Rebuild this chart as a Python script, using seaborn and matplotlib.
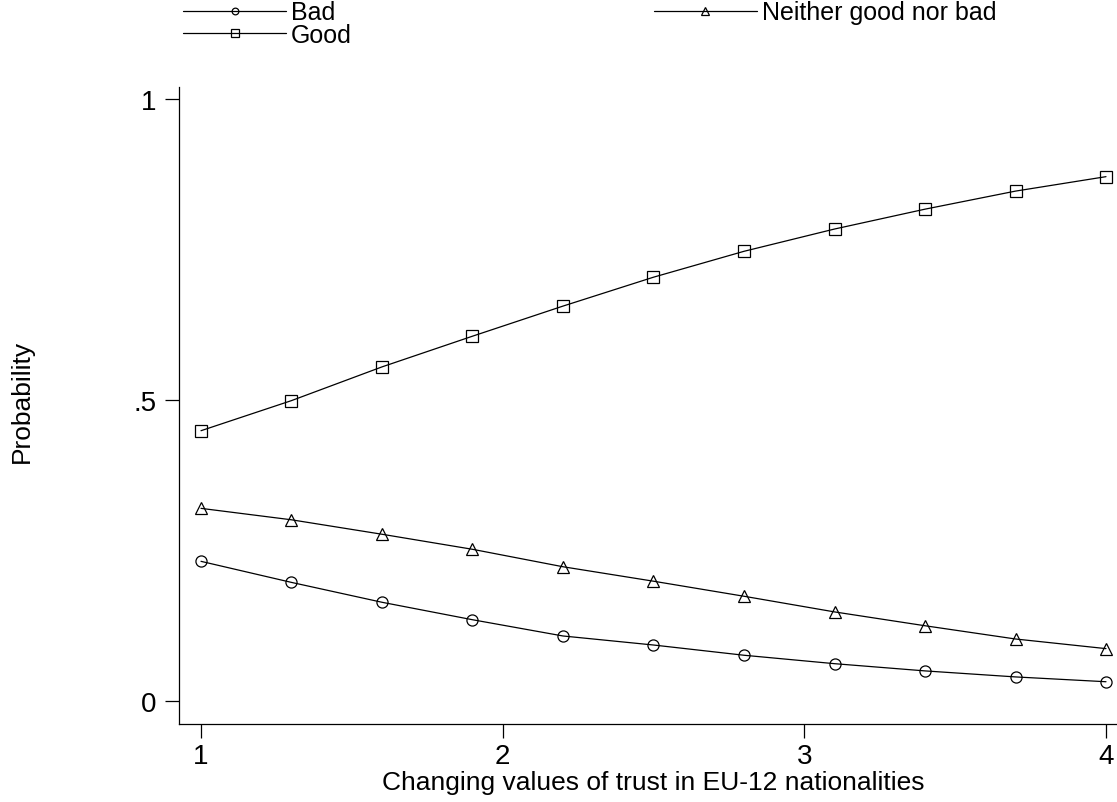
import matplotlib as mpl
import matplotlib.pyplot as plt
import seaborn as sns
from matplotlib import font_manager

mpl.use('Agg')

# data
trust = [1.0, 1.3, 1.6, 1.9, 2.2, 2.5, 2.8, 3.1, 3.4, 3.7, 4.0]
bad = [0.232, 0.197, 0.164, 0.135, 0.108, 0.093, 0.076, 0.062, 0.050, 0.040, 0.032]
good = [0.449, 0.499, 0.555, 0.606, 0.656, 0.704, 0.747, 0.784, 0.817, 0.847, 0.871]
neither = [0.320, 0.301, 0.277, 0.252, 0.223, 0.199, 0.174, 0.148, 0.125, 0.103, 0.087]

x_ticks = [1, 2, 3, 4]
y_ticks = [0, 0.5, 1]
y_ticklabels = ['0', '.5', '1']

sns.set_theme(style='ticks', rc={'text.color': 'black', 'axes.labelcolor': 'black',
                                 'xtick.color': 'black', 'ytick.color': 'black'})
available = {f.name for f in font_manager.fontManager.ttflist}
family = ['Liberation Sans Narrow'] if 'Liberation Sans Narrow' in available else []
plt.rcParams['font.family'] = family + ['Liberation Sans', 'DejaVu Sans']

fig = plt.figure(figsize=(11.17, 8.03), dpi=100)
ax = fig.add_axes([179 / 1117, 1 - 725 / 803, 1 - 179 / 1117, (725 - 88) / 803])

series = [('Bad', bad, 'o', 8), ('Good', good, 's', 9), ('Neither good nor bad', neither, '^', 9)]
for name, vals, mk, ms in series:
    sns.lineplot(x=trust, y=vals, ax=ax, color='black', linewidth=0.9, marker=mk,
                 markersize=ms, markerfacecolor='none', markeredgecolor='black',
                 markeredgewidth=0.9, label=name)

ax.set_xlim(1 - 22 / 301.67, 4 + 11 / 301.67)
ax.set_ylim(-23 / 602, 1 + 12 / 602)
ax.set_xticks(x_ticks)
ax.set_yticks(y_ticks)
ax.set_yticklabels(y_ticklabels)
ax.tick_params(axis='both', labelsize=20, length=10, width=0.9, color='black', labelcolor='black')
ax.tick_params(axis='y', pad=6)
ax.tick_params(axis='x', pad=4)
for side in ['top', 'right']:
    ax.spines[side].set_visible(False)
for side in ['left', 'bottom']:
    ax.spines[side].set_color('black')
    ax.spines[side].set_linewidth(0.9)
ax.set_xlabel('')
ax.set_ylabel('')

fig.text(653 / 1117, 1 - 783 / 803, 'Changing values of trust in EU-12 nationalities',
         ha='center', va='center', fontsize=19)
fig.text(22 / 1117, 1 - 401 / 803, 'Probability', rotation=90,
         ha='center', va='center', fontsize=19)

ax.legend(loc='upper left', bbox_to_anchor=(182 / 1117, 1.0), bbox_transform=fig.transFigure,
          ncol=2, frameon=False, fontsize=18, handlelength=4.1, handletextpad=0.2,
          columnspacing=12.1, labelspacing=-0.05, borderpad=0, borderaxespad=0.05,
          markerscale=0.6)

fig.savefig('out.png', dpi=100)
